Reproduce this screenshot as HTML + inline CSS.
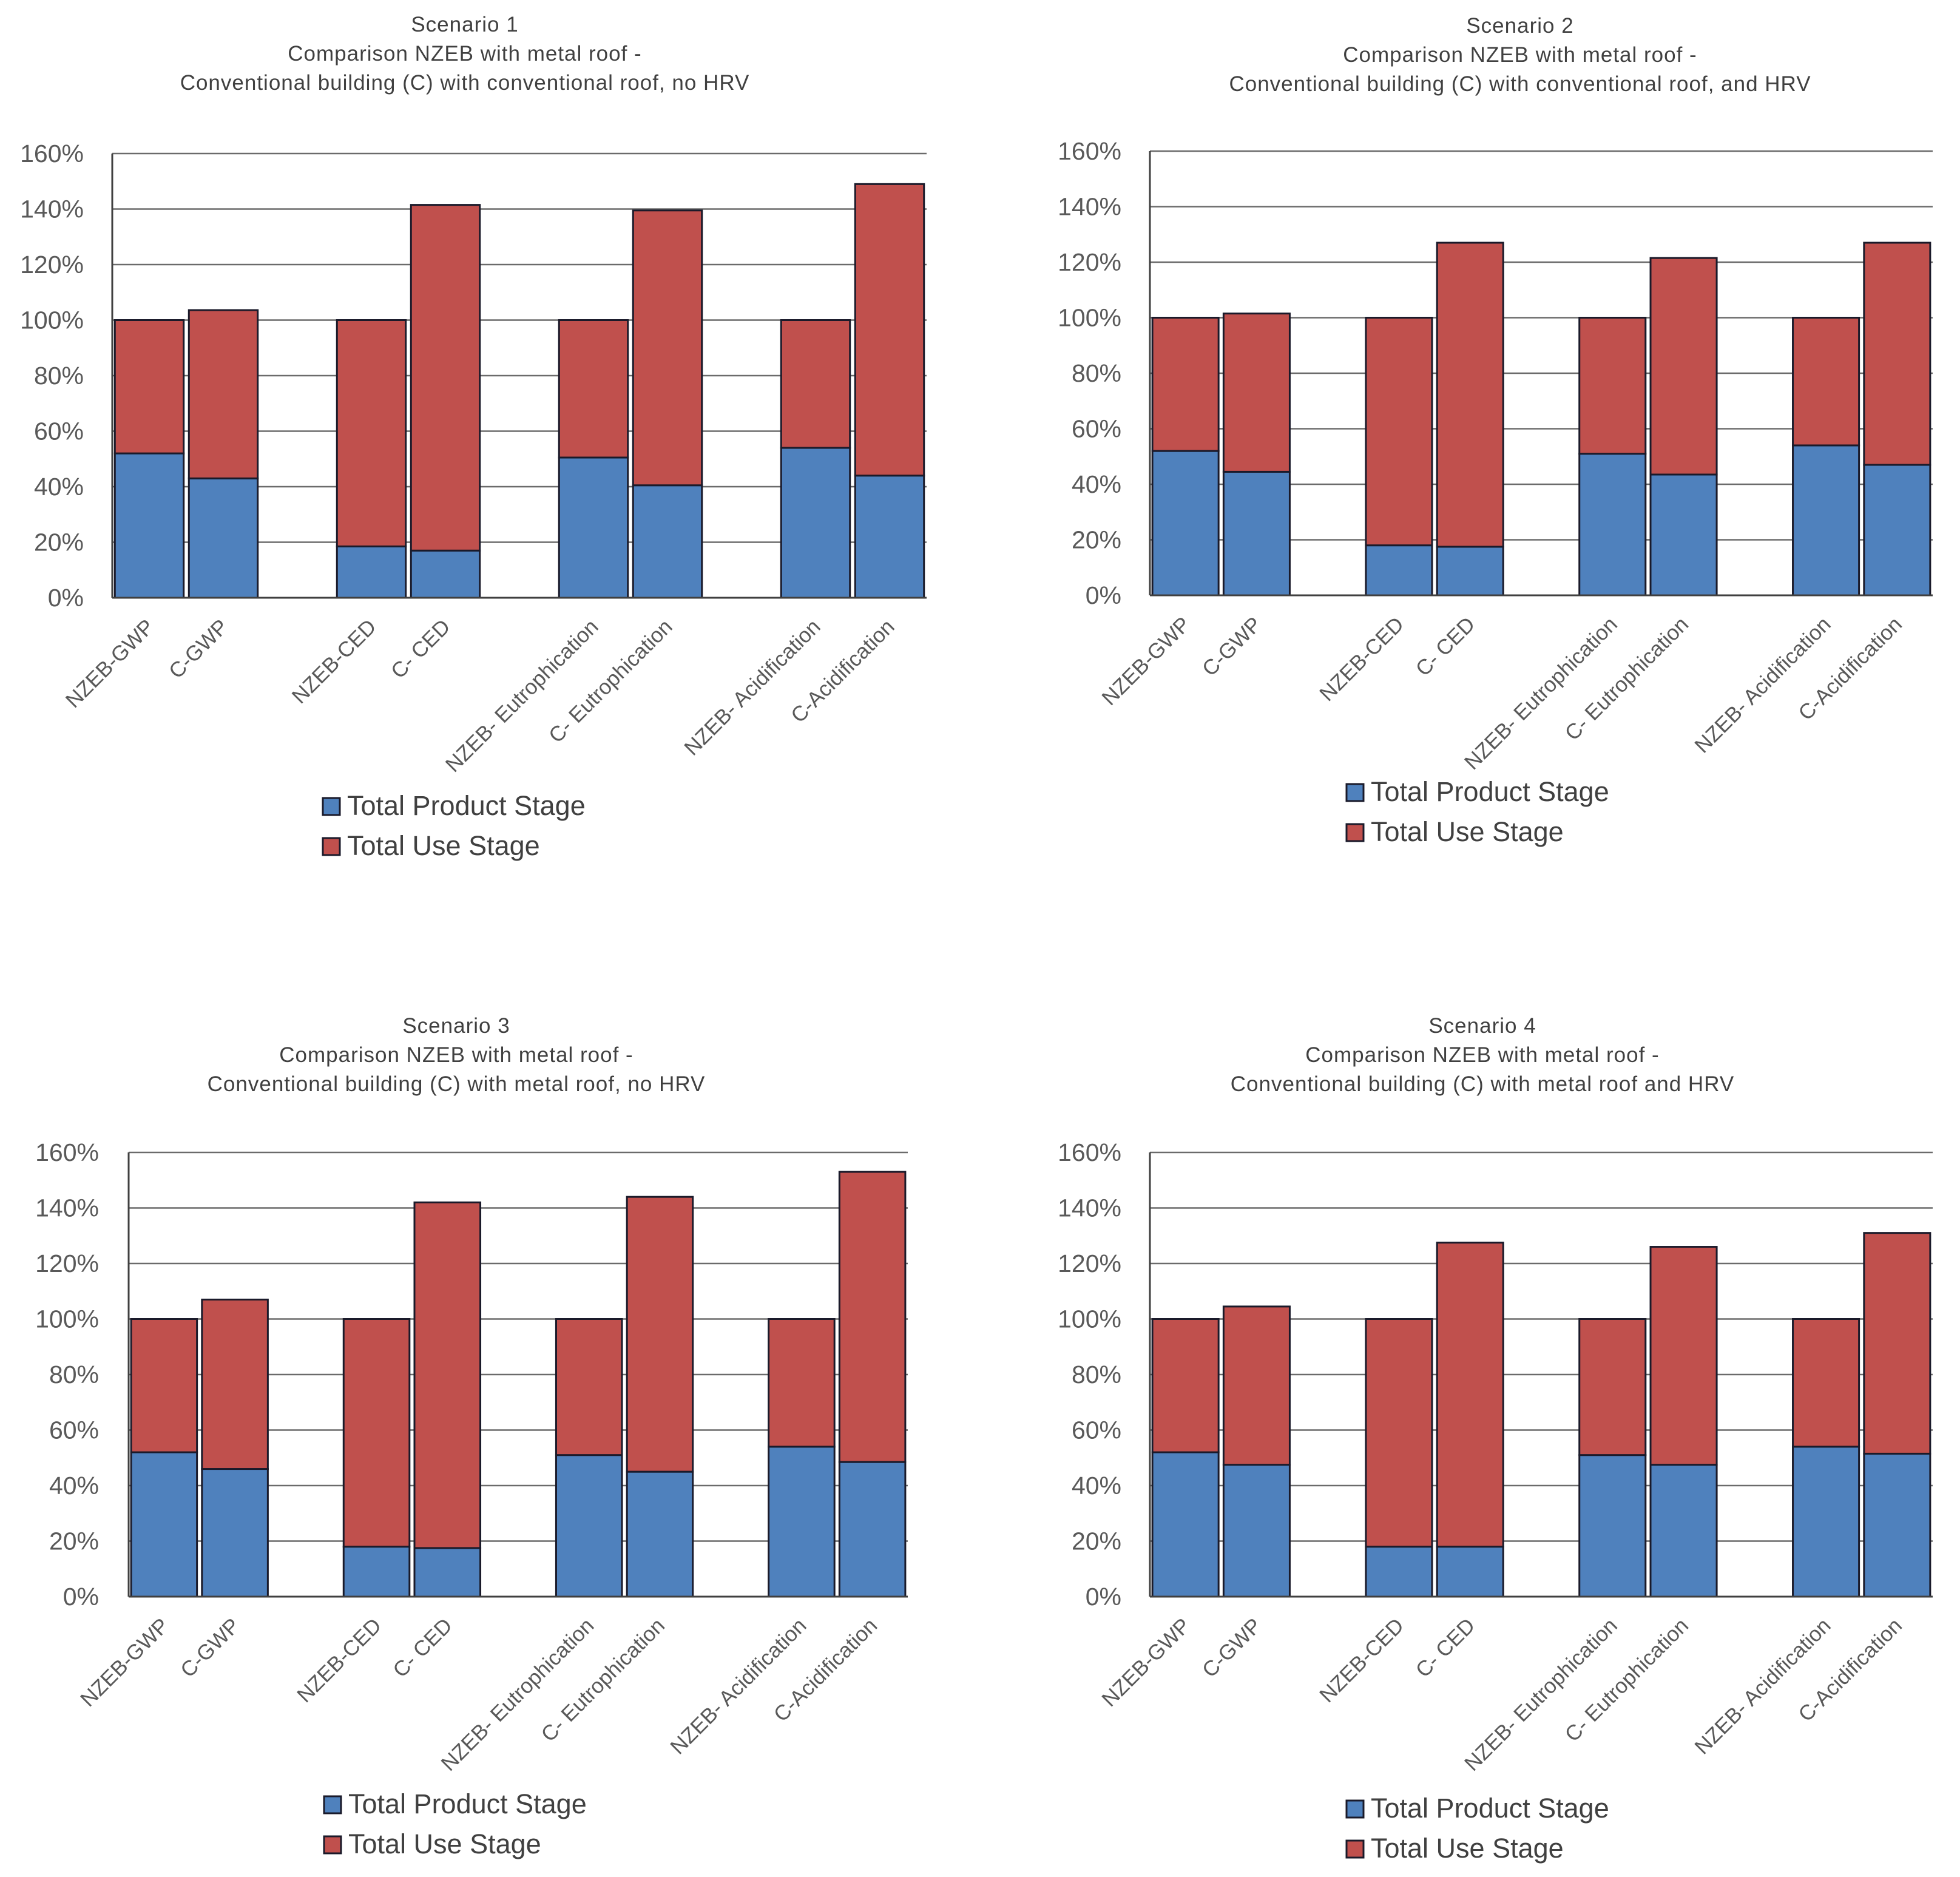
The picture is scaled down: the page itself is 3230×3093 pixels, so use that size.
<!DOCTYPE html>
<html><head><meta charset="utf-8"><style>
html,body{margin:0;padding:0;background:#fff;}
svg{display:block;}
text{font-family:"Liberation Sans",sans-serif;}
</style></head><body>
<svg id="root" width="3230" height="3093" viewBox="0 0 3230 3093" xmlns="http://www.w3.org/2000/svg"></svg>
<script>
const categories = ["NZEB-GWP","C-GWP","","NZEB-CED","C- CED","","NZEB- Eutrophication","C- Eutrophication","","NZEB- Acidification","C-Acidification"];
const yTicks = [0,20,40,60,80,100,120,140,160];
const tickLabels = ["0%","20%","40%","60%","80%","100%","120%","140%","160%"];
const legendLabels = ["Total Product Stage","Total Use Stage"];
// product stage (blue) and total (product+use) per scenario, null = empty slot
const s1Product = [52,43,null,18.5,17,null,50.5,40.5,null,54,44];
const s1Total   = [100,103.6,null,100,141.5,null,100,139.5,null,100,149];
const s2Product = [52,44.5,null,18,17.5,null,51,43.5,null,54,47];
const s2Total   = [100,101.5,null,100,127,null,100,121.5,null,100,127];
const s3Product = [52,46,null,18,17.5,null,51,45,null,54,48.5];
const s3Total   = [100,107,null,100,142,null,100,144,null,100,153];
const s4Product = [52,47.5,null,18,18,null,51,47.5,null,54,51.5];
const s4Total   = [100,104.5,null,100,127.5,null,100,126,null,100,131];
const titles1 = ["Scenario 1","Comparison NZEB with metal roof -","Conventional building (C) with conventional roof, no HRV"];
const titles2 = ["Scenario 2","Comparison NZEB with metal roof -","Conventional building (C) with conventional roof, and HRV"];
const titles3 = ["Scenario 3","Comparison NZEB with metal roof -","Conventional building (C) with metal roof, no HRV"];
const titles4 = ["Scenario 4","Comparison NZEB with metal roof -","Conventional building (C) with metal roof and HRV"];

const NS="http://www.w3.org/2000/svg";
const root=document.getElementById('root');
function mk(tag,attrs,parent){const e=document.createElementNS(NS,tag);for(const k in attrs)e.setAttribute(k,attrs[k]);parent.appendChild(e);return e;}

function chart(id,cfg,product,total,titles){
  const g=mk('g',{},root);
  
  
  const {left,right,top,bottom,titleX,titleY,labelX,legX,legY}=cfg;
  const yScale=v=>bottom-(v/160)*(bottom-top);
  const slot=(right-left)/categories.length;
  const xc=i=>left+slot*(i+0.5);
  const bw=slot*0.93;
  titles.forEach((t,i)=>{
    const tt=mk('text',{x:titleX,y:titleY+i*48,'text-anchor':'middle','font-size':35,fill:'#404040','letter-spacing':1},g);
    tt.textContent=t;
    
    
  });
  yTicks.forEach((v,i)=>{
    const y=yScale(v);
    if(v>0){const l=mk('line',{x1:left,x2:right,y1:y,y2:y,stroke:'#6b6b6b','stroke-width':2.5},g);
      
      }
    const t=mk('text',{x:labelX,y:y+14,'text-anchor':'end','font-size':41,fill:'#595959'},g);
    t.textContent=tickLabels[i];
    
    
  });
  categories.forEach((c,i)=>{
    if(product[i]===null)return;
    const x=xc(i)-bw/2;
    const b=mk('rect',{x:x,y:yScale(product[i]),width:bw,height:yScale(0)-yScale(product[i]),fill:'#4F81BD',stroke:'#1a1a2a','stroke-width':3},g);
    
    
    const r=mk('rect',{x:x,y:yScale(total[i]),width:bw,height:yScale(product[i])-yScale(total[i]),fill:'#C0504D',stroke:'#1a1a2a','stroke-width':3},g);
    
    
    const tx=xc(i)+10, ty=bottom+50;
    const t=mk('text',{x:tx,y:ty,'text-anchor':'end','font-size':35,fill:'#595959',transform:`rotate(-45 ${tx} ${ty})`},g);
    t.textContent=c;
    
    
  });
  const ax=mk('line',{x1:left,x2:right,y1:bottom,y2:bottom,stroke:'#404040','stroke-width':3},g);
  
  
  const ay=mk('line',{x1:left,x2:left,y1:top,y2:bottom,stroke:'#404040','stroke-width':3},g);
  
  
  const cols=['#4F81BD','#C0504D'];
  legendLabels.forEach((L,i)=>{
    const y=legY+i*66;
    const s=mk('rect',{x:legX,y:y-28,width:28,height:28,fill:cols[i],stroke:'#1a1a2a','stroke-width':3},g);
    
    
    const t=mk('text',{x:legX+40,y:y,'font-size':45,fill:'#404040'},g);
    t.textContent=L;
    
    
  });
}
chart('scenario-1',{left:185,right:1527,top:253,bottom:985,titleX:766,titleY:52,labelX:138,legX:532,legY:1343},s1Product,s1Total,titles1);
chart('scenario-2',{left:1895,right:3185,top:249,bottom:981,titleX:2505,titleY:54,labelX:1848,legX:2219,legY:1320},s2Product,s2Total,titles2);
chart('scenario-3',{left:212,right:1496,top:1899,bottom:2631,titleX:752,titleY:1702,labelX:163,legX:534,legY:2988},s3Product,s3Total,titles3);
chart('scenario-4',{left:1895,right:3185,top:1899,bottom:2631,titleX:2443,titleY:1702,labelX:1848,legX:2219,legY:2995},s4Product,s4Total,titles4);
</script>
</body></html>
